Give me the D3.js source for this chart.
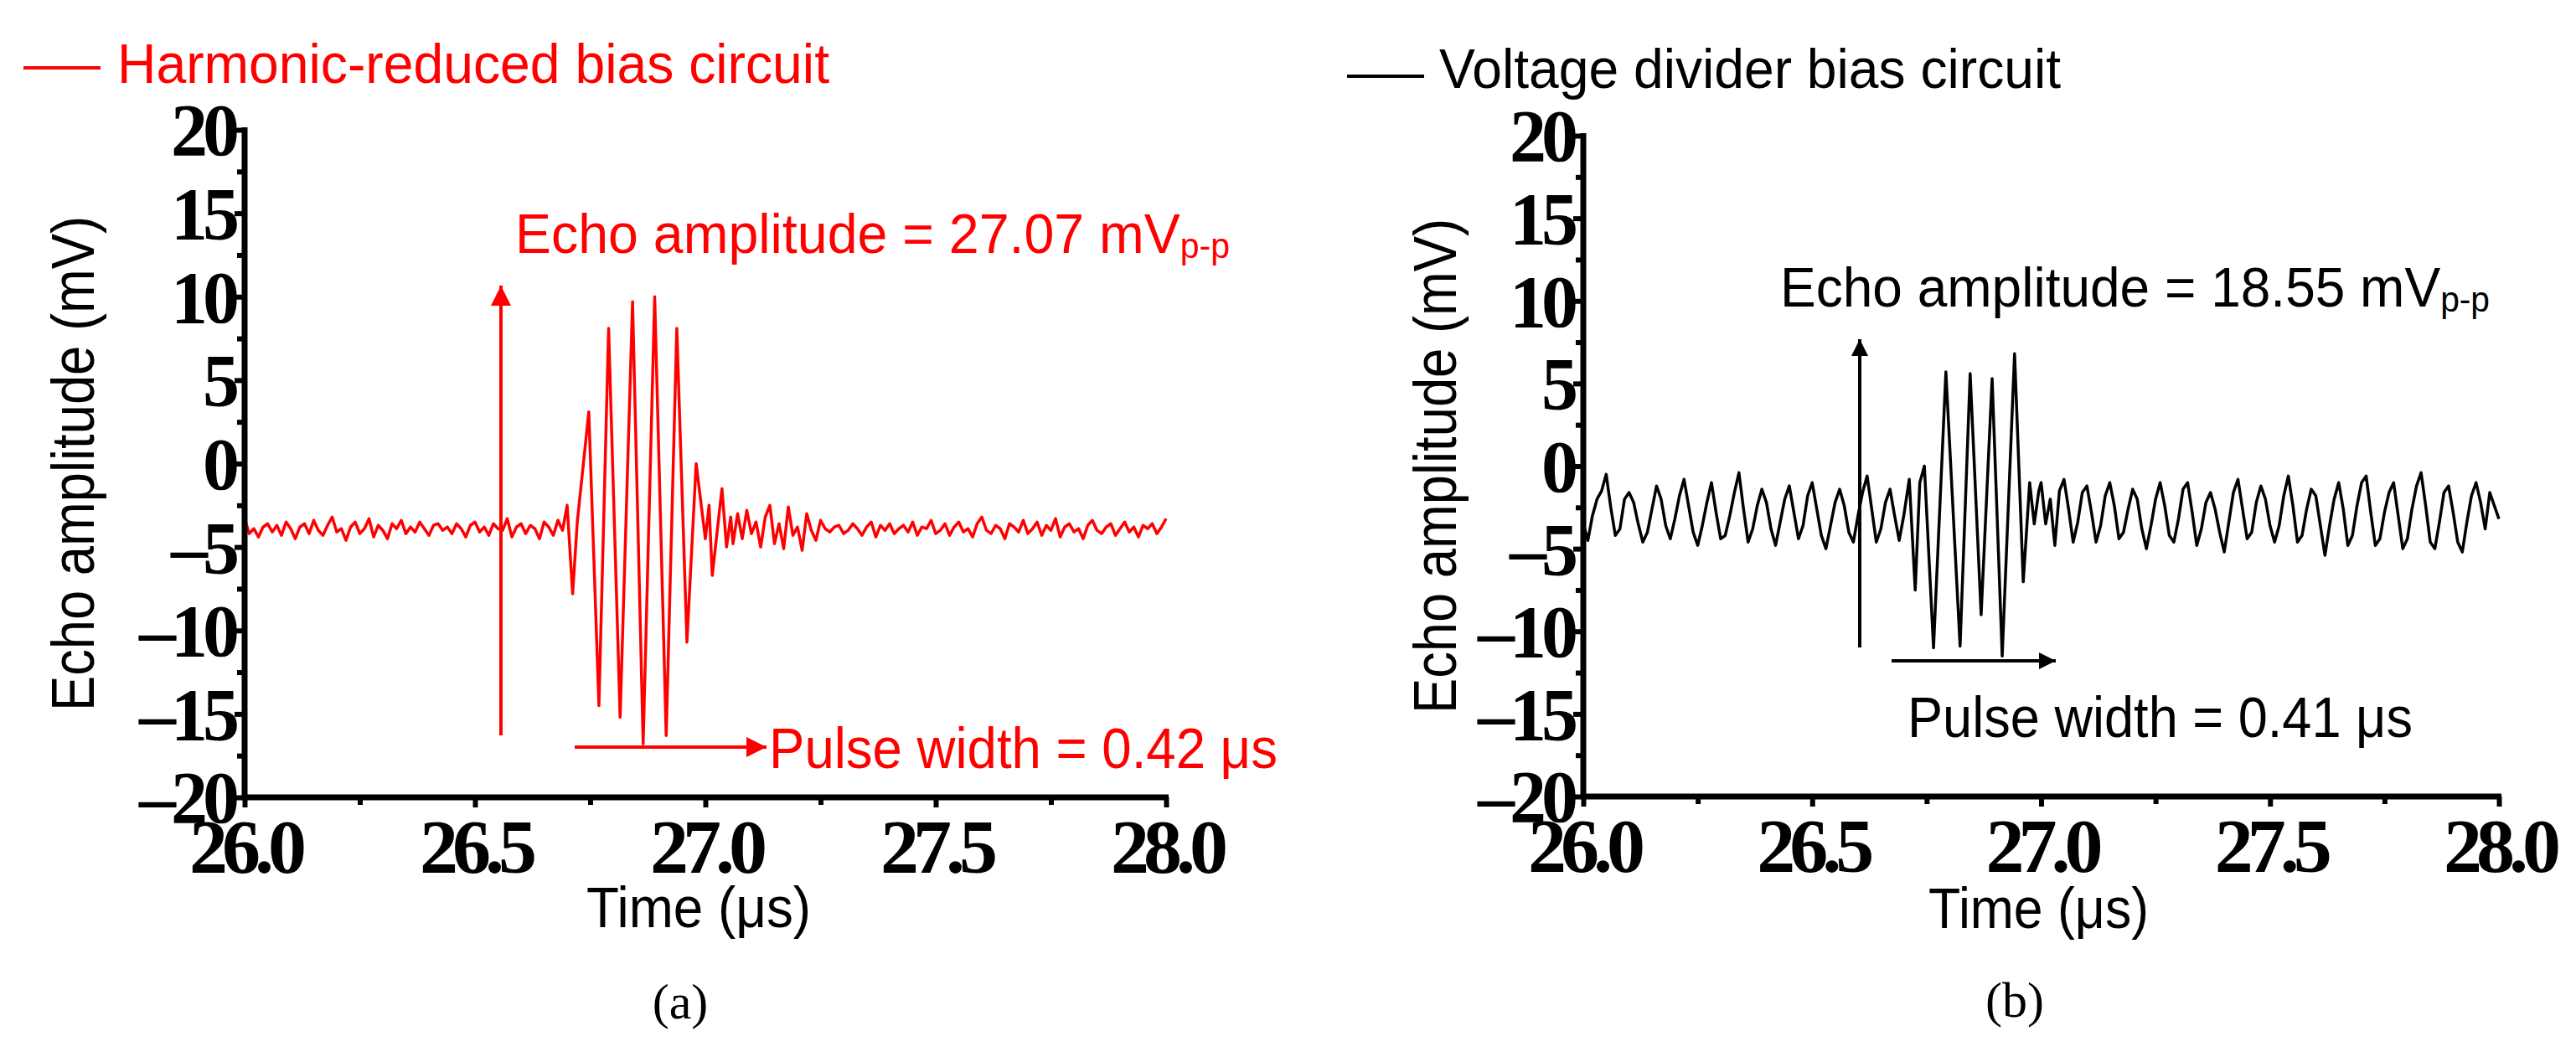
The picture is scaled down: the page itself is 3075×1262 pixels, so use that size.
<!DOCTYPE html>
<html><head><meta charset="utf-8">
<script src="https://cdn.jsdelivr.net/npm/d3@7"></script>
<style>body{margin:0;background:#fff}</style></head>
<body><svg id="c" width="3075" height="1262"></svg>
<script>
const yTicks=[-20,-15,-10,-5,0,5,10,15,20];
const yMinor=[-17.5,-12.5,-7.5,-2.5,2.5,7.5,12.5,17.5];
const xTicks=[26.0,26.5,27.0,27.5,28.0];
const xMinor=[26.25,26.75,27.25,27.75];
// Panel (a): harmonic-reduced
const aPre=[-3.3,-4.2,-3.9,-4.4,-3.8,-3.6,-4.1,-3.7,-4.3,-3.5,-3.9,-4.5,-3.8,-3.6,-4.2,-3.4,-4.0,-4.3,-3.7,-3.2,
-4.1,-3.9,-4.6,-3.8,-3.5,-4.2,-3.9,-3.3,-4.4,-3.7,-4.0,-4.5,-3.6,-3.9,-3.4,-4.2,-3.8,-4.1,-3.5,-3.9,
-4.3,-3.7,-3.6,-4.0,-3.8,-4.2,-3.6,-3.9,-4.4,-3.7,-3.5,-4.1,-3.8,-4.3,-3.6,-3.9,-4.0,-3.3,-4.4,-3.8,
-3.6,-4.2,-3.7,-3.9,-4.5,-3.5,-3.8,-4.3,-3.4,-4.0];
const aBurst=[[26.700,-2.5],[26.712,-7.8],[26.722,-3.5],[26.747,3.1],[26.769,-14.5],[26.790,8.1],[26.815,-15.2],[26.842,9.7],[26.865,-16.8],[26.890,10.0],[26.915,-16.3],[26.938,8.1],[26.960,-10.7],[26.980,0.0],[27.000,-4.5],[27.008,-2.5],[27.015,-6.7],[27.036,-1.5],[27.046,-5.0],[27.055,-3.2]];
const aPost=[-4.8,-3.0,-4.5,-2.8,-4.2,-3.5,-5.0,-3.2,-2.5,-4.8,-3.6,-5.1,-2.6,-4.3,-3.8,-5.2,-3.0,-4.0,-4.6,-3.4,
-3.9,-4.1,-3.8,-3.7,-4.2,-4.0,-3.6,-3.9,-4.3,-3.8,-3.5,-4.4,-3.7,-4.0,-3.6,-4.2,-3.9,-3.7,-4.1,-3.5,
-4.3,-3.8,-3.9,-3.4,-4.2,-4.0,-3.6,-4.3,-3.8,-3.5,-4.1,-3.9,-4.4,-3.6,-3.2,-4.0,-4.2,-3.7,-3.9,-4.5,
-3.6,-3.8,-4.1,-3.4,-4.2,-3.9,-3.5,-4.3,-3.7,-4.0,-3.3,-4.4,-3.8,-3.6,-4.1,-3.9,-4.5,-3.7,-3.4,-4.0,
-4.2,-3.8,-3.6,-4.3,-3.9,-3.5,-4.1,-3.8,-4.4,-3.7,-3.9,-3.6,-4.2,-3.8,-3.3];
// Panel (b): voltage divider
const bPre=[-3.5,-4.5,-3.0,-2.0,-1.5,-0.5,-2.5,-4.2,-3.8,-2.0,-1.6,-2.2,-3.5,-4.6,-4.0,-2.6,-1.2,-2.0,-3.6,-4.4,
-3.2,-1.8,-0.8,-2.4,-4.0,-4.8,-3.6,-2.2,-1.0,-2.8,-4.4,-4.2,-3.0,-1.6,-0.4,-2.6,-4.6,-3.8,-2.4,-1.4,
-2.2,-3.8,-4.8,-3.4,-2.0,-1.2,-2.8,-4.4,-3.6,-1.8,-1.0,-2.6,-4.2,-5.0,-3.6,-2.2,-1.4,-2.4,-4.0,-4.6,
-3.0,-1.6,-0.6,-2.6,-4.6,-3.8,-2.2,-1.4,-3.0,-4.5];
const bBurst=[[26.700,-3.0],[26.712,-0.8],[26.725,-7.5],[26.735,-1],[26.745,0],[26.765,-11],[26.792,5.7],[26.823,-10.9],[26.845,5.6],[26.869,-9],[26.893,5.3],[26.915,-11.5],[26.942,6.8],[26.961,-7],[26.975,-1],[26.985,-3.5],[26.995,-1.5]];
const bPost=[-1.0,-3.5,-2.0,-4.8,-1.5,-0.8,-2.6,-4.6,-3.4,-1.6,-1.2,-2.8,-4.6,-3.6,-1.8,-1.0,-2.4,-4.4,-4.0,-2.6,
-1.4,-2.0,-3.8,-5.0,-3.6,-2.0,-1.0,-2.4,-4.2,-4.6,-3.2,-1.4,-1.0,-2.8,-4.8,-3.8,-2.2,-1.6,-2.6,-4.0,
-5.2,-3.4,-1.6,-0.8,-2.6,-4.4,-4.0,-2.2,-1.2,-2.0,-3.6,-4.6,-3.6,-1.8,-0.6,-2.4,-4.6,-4.2,-2.6,-1.4,
-1.8,-3.6,-5.4,-3.6,-2.0,-1.0,-2.6,-4.8,-4.2,-2.4,-1.0,-0.6,-2.8,-4.8,-4.4,-2.8,-1.6,-1.0,-3.0,-5.0,
-4.4,-2.6,-1.2,-0.4,-2.4,-4.6,-5.0,-3.4,-1.6,-1.2,-2.8,-4.6,-5.2,-3.4,-1.8,-1.0,-2.2,-3.8,-1.6,-2.4,
-3.2];

function series(pre,preStart,burst,post,postStart){
  const d=pre.map((v,i)=>[preStart+i*0.01,v]);
  burst.forEach(p=>d.push(p));
  post.forEach((v,i)=>d.push([postStart+i*0.01,v]));
  return d;
}
const svg=d3.select("#c");
const sans="'Liberation Sans',Arial,sans-serif", serif="'Liberation Serif','Times New Roman',serif";

function panel(o){
  const g=svg.append("g");
  const x=d3.scaleLinear().domain([26,28]).range([o.x0,o.x1]);
  const y=d3.scaleLinear().domain([-20,20]).range([o.y1,o.y0]);
  g.append("path").datum(o.data).attr("fill","none").attr("stroke",o.color).attr("stroke-width",3.5)
   .attr("stroke-linejoin","round").attr("d",d3.line().x(d=>x(d[0])).y(d=>y(d[1])));
  const ya=g.append("g").attr("transform",`translate(${o.x0},0)`).call(d3.axisLeft(y).tickValues(yTicks).tickSize(12).tickFormat(d=>d<0?"\u2013"+(-d):d));
  g.append("g").attr("transform",`translate(${o.x0},0)`).call(d3.axisLeft(y).tickValues(yMinor).tickSize(9).tickFormat(""));
  const xa=g.append("g").attr("transform",`translate(0,${o.y1})`).call(d3.axisBottom(x).tickValues(xTicks).tickSize(12).tickFormat(d3.format(".1f")));
  g.append("g").attr("transform",`translate(0,${o.y1})`).call(d3.axisBottom(x).tickValues(xMinor).tickSize(9).tickFormat(""));
  g.selectAll(".domain").remove();
  g.selectAll(".tick line").attr("stroke","#000").attr("stroke-width",6);
  g.append("line").attr("x1",o.x0).attr("x2",o.x0).attr("y1",o.y0-3).attr("y2",o.y1+3).attr("stroke","#000").attr("stroke-width",7);
  g.append("line").attr("x1",o.x0-3).attr("x2",o.x1+3).attr("y1",o.y1).attr("y2",o.y1).attr("stroke","#000").attr("stroke-width",7);
  ya.selectAll("text").attr("font-family",serif).attr("font-weight","bold").attr("font-size",88).attr("letter-spacing",-6).attr("fill","#000").attr("x",-12).attr("dy","0.34em");
  xa.selectAll("text").attr("font-family",serif).attr("font-weight","bold").attr("font-size",92).attr("letter-spacing",-7).attr("fill","#000").attr("y",24).attr("dy","0.72em");
  g.append("text").attr("transform",`translate(${o.ylabX},${(o.y0+o.y1)/2}) rotate(-90)`).attr("text-anchor","middle")
   .attr("font-family",sans).attr("font-size",72).attr("textLength",591).attr("lengthAdjust","spacingAndGlyphs").text("Echo amplitude (mV)");
  g.append("text").attr("x",o.xt[0]).attr("y",o.xt[1]).attr("font-family",sans).attr("font-size",68).attr("textLength",o.xt[2]).attr("lengthAdjust","spacingAndGlyphs").text("Time (\u03bcs)");
  g.append("line").attr("x1",o.leg[0]).attr("x2",o.leg[1]).attr("y1",o.leg[2]).attr("y2",o.leg[2]).attr("stroke",o.color).attr("stroke-width",4);
  g.append("text").attr("x",o.leg[3]).attr("y",o.leg[4]).attr("fill",o.color).attr("font-family",sans).attr("font-size",66).attr("textLength",o.leg[5]).attr("lengthAdjust","spacingAndGlyphs").text(o.legText);
  const mk="m"+o.id;
  svg.append("defs").append("marker").attr("id",mk).attr("viewBox","0 0 10 10").attr("refX",10).attr("refY",5)
    .attr("markerWidth",o.ah[0]).attr("markerHeight",o.ah[1]).attr("markerUnits","userSpaceOnUse").attr("orient","auto")
    .append("path").attr("d","M0,0L10,5L0,10Z").attr("fill",o.color);
  g.append("line").attr("x1",o.va[0]).attr("x2",o.va[0]).attr("y1",o.va[1]).attr("y2",o.va[2]).attr("stroke",o.color).attr("stroke-width",4).attr("marker-end",`url(#${mk})`);
  g.append("line").attr("x1",o.ha[0]).attr("x2",o.ha[1]).attr("y1",o.ha[2]).attr("y2",o.ha[2]).attr("stroke",o.color).attr("stroke-width",4).attr("marker-end",`url(#${mk})`);
  const t1=g.append("text").attr("x",o.ea[0]).attr("y",o.ea[1]).attr("fill",o.color).attr("font-family",sans).attr("font-size",66);
  t1.append("tspan").text(o.eaText);
  t1.append("tspan").attr("font-size",42).attr("dy",6).text("p-p");
  t1.attr("textLength",o.ea[2]).attr("lengthAdjust","spacingAndGlyphs");
  g.append("text").attr("x",o.pw[0]).attr("y",o.pw[1]).attr("fill",o.color).attr("font-family",sans).attr("font-size",68).attr("textLength",o.pw[2]).attr("lengthAdjust","spacingAndGlyphs").text(o.pwText);
  g.append("text").attr("x",o.cap[0]).attr("y",o.cap[1]).attr("text-anchor","middle").attr("font-family",serif).attr("font-size",60).text(o.capText);
}

panel({id:"a",color:"#ff0000",x0:292,x1:1392,y0:155,y1:952,ylabX:112,
  data:series(aPre,26.0,aBurst,aPost,27.06),
  xt:[700,1107,268],leg:[28,120,81,140,99,850],legText:"Harmonic-reduced bias circuit",
  ah:[30,24],va:[598,878,341],ha:[686,915,892],
  ea:[615,302,853],eaText:"Echo amplitude = 27.07 mV",
  pw:[918,917,607],pwText:"Pulse width = 0.42 \u03bcs",cap:[812,1216],capText:"(a)"});
panel({id:"b",color:"#000000",x0:1890,x1:2983,y0:162,y1:951,ylabX:1540+198,
  data:series(bPre,26.0,bBurst,bPost,27.00),
  xt:[1540+762,1108,263],leg:[1540+68,1540+160,91,1540+178,105,742],legText:"Voltage divider bias circuit",
  ah:[26,20],va:[2220,773,405],ha:[2258,2454,789],
  ea:[1540+585,366,847],eaText:"Echo amplitude = 18.55 mV",
  pw:[1540+737,880,603],pwText:"Pulse width = 0.41 \u03bcs",cap:[1540+865,1214],capText:"(b)"});
</script></body></html>
